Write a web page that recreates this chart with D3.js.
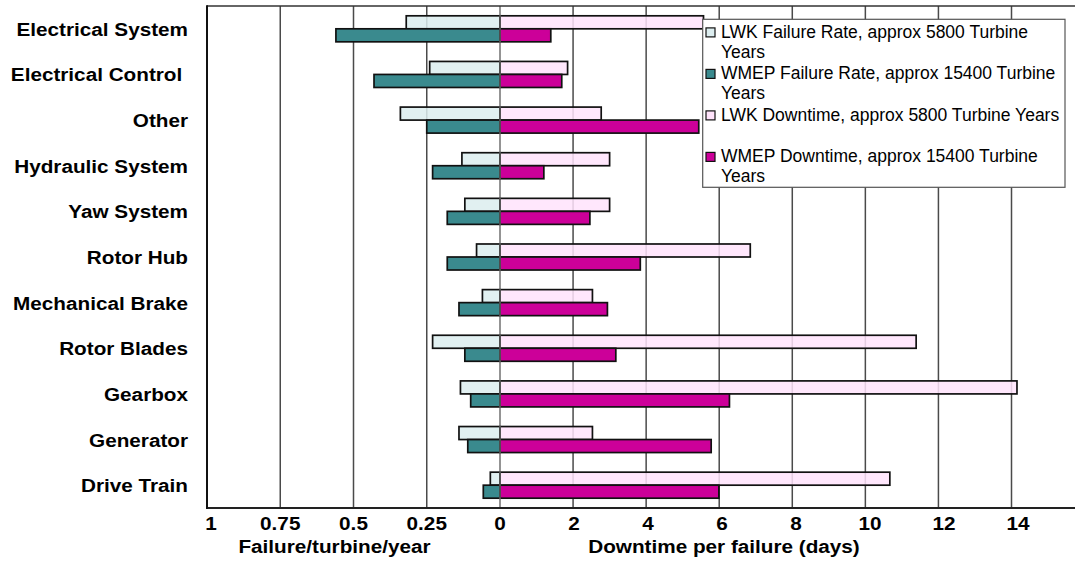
<!DOCTYPE html>
<html>
<head>
<meta charset="utf-8">
<script src="https://cdn.jsdelivr.net/npm/d3@7"></script>
<style>
  html, body { margin: 0; padding: 0; background: #fff; }
  svg { display: block; }
  text { font-family: "Liberation Sans", Arial, Helvetica, sans-serif; fill: #000; }
</style>
</head>
<body>
<svg id="chart" width="1075" height="562"></svg>
<script>
// Wind turbine subsystem reliability: failure rates (left) and downtime per failure (right)
const categories = [
  "Electrical System", "Electrical Control", "Other", "Hydraulic System", "Yaw System",
  "Rotor Hub", "Mechanical Brake", "Rotor Blades", "Gearbox", "Generator", "Drive Train"
];
const lwkFailureRate  = [0.32, 0.24, 0.34, 0.13, 0.12, 0.08, 0.06, 0.23, 0.135, 0.14, 0.033];
const wmepFailureRate = [0.56, 0.43, 0.25, 0.23, 0.18, 0.18, 0.14, 0.12, 0.10, 0.11, 0.057];
const lwkDowntime     = [5.57, 1.85, 2.77, 3.0, 3.0, 6.85, 2.53, 11.39, 14.15, 2.53, 10.67];
const wmepDowntime    = [1.39, 1.69, 5.44, 1.2, 2.46, 3.84, 2.94, 3.17, 6.28, 5.78, 5.99];

const failureTicks  = [1, 0.75, 0.5, 0.25, 0];
const downtimeTicks = [2, 4, 6, 8, 10, 12, 14];

const legendEntries = [
  { lines: ["LWK Failure Rate, approx 5800 Turbine", "Years"], key: "lwkF" },
  { lines: ["WMEP Failure Rate, approx 15400 Turbine", "Years"], key: "wmepF" },
  { lines: ["LWK Downtime, approx 5800 Turbine Years", ""], key: "lwkD" },
  { lines: ["WMEP Downtime, approx 15400 Turbine", "Years"], key: "wmepD" }
];

const colors = {
  lwkF: "#dcedef",
  wmepF: "#3a8a8e",
  lwkD: "#ffe3fb",
  wmepD: "#cc0099"
};

const svg = d3.select("#chart");
const W = 1075, H = 562;
const plotTop = 6, plotBottom = 508, plotLeft = 207, zeroX = 500;

const xFail = d3.scaleLinear().domain([1, 0]).range([plotLeft, zeroX]);
const xDown = d3.scaleLinear().domain([0, 14]).range([zeroX, 1011.5]);
const xDownLabel = d3.scaleLinear().domain([0, 14]).range([zeroX, 1018]);
const y = d3.scaleBand().domain(categories).range([plotTop, plotBottom])
  .paddingInner(0.43).paddingOuter(0.215);
const ySub = d3.scaleBand().domain(["LWK", "WMEP"]).range([0, y.bandwidth()]);

// grid lines
const grid = svg.append("g");
grid.selectAll("line.gf").data(failureTicks.filter(t => t !== 1 && t !== 0)).join("line")
  .attr("x1", d => xFail(d)).attr("x2", d => xFail(d))
  .attr("y1", plotTop).attr("y2", plotBottom)
  .attr("stroke", "#4a4a4a").attr("stroke-width", 1.5);
grid.selectAll("line.gd").data(downtimeTicks).join("line")
  .attr("x1", d => xDown(d)).attr("x2", d => xDown(d))
  .attr("y1", plotTop).attr("y2", plotBottom)
  .attr("stroke", "#4a4a4a").attr("stroke-width", 1.5);

// bars
const rows = categories.map((c, i) => ({
  cat: c,
  lwkF: lwkFailureRate[i], wmepF: wmepFailureRate[i],
  lwkD: lwkDowntime[i], wmepD: wmepDowntime[i]
}));

const bars = svg.append("g");
function failureBars(key, sub, opacity) {
  bars.selectAll(null).data(rows).join("rect")
    .attr("x", d => xFail(d[key]))
    .attr("width", d => zeroX - xFail(d[key]))
    .attr("y", d => y(d.cat) + ySub(sub))
    .attr("height", ySub.bandwidth())
    .attr("fill", colors[key]).attr("fill-opacity", opacity)
    .attr("stroke", "#111").attr("stroke-width", 1.7);
}
function downtimeBars(key, sub, opacity) {
  bars.selectAll(null).data(rows).join("rect")
    .attr("x", zeroX)
    .attr("width", d => xDown(d[key]) - zeroX)
    .attr("y", d => y(d.cat) + ySub(sub))
    .attr("height", ySub.bandwidth())
    .attr("fill", colors[key]).attr("fill-opacity", opacity)
    .attr("stroke", "#111").attr("stroke-width", 1.7);
}
failureBars("lwkF", "LWK", 0.85);
failureBars("wmepF", "WMEP", 1);
downtimeBars("lwkD", "LWK", 0.85);
downtimeBars("wmepD", "WMEP", 1);

// zero line
svg.append("line")
  .attr("x1", zeroX).attr("x2", zeroX).attr("y1", plotTop).attr("y2", plotBottom)
  .attr("stroke", "#666").attr("stroke-width", 1.4);

// frame
svg.append("line").attr("x1", plotLeft).attr("x2", W).attr("y1", plotTop).attr("y2", plotTop)
  .attr("stroke", "#333").attr("stroke-width", 1.6);
svg.append("line").attr("x1", plotLeft).attr("x2", W).attr("y1", plotBottom).attr("y2", plotBottom)
  .attr("stroke", "#222").attr("stroke-width", 2);
svg.append("line").attr("x1", plotLeft).attr("x2", plotLeft).attr("y1", plotTop - 0.8).attr("y2", plotBottom + 1)
  .attr("stroke", "#111").attr("stroke-width", 2);

// bold text helper with slightly wide glyphs
const SX = 1.12, BOLD = 18.5;
function boldText(x, yy, str, anchor) {
  const g = svg.append("g").attr("transform", `translate(${x},${yy}) scale(${SX},1)`);
  g.append("text").attr("text-anchor", anchor)
    .style("font-size", BOLD + "px").style("font-weight", "bold")
    .style("white-space", "pre").text(str);
}

// category labels
categories.forEach((c) => {
  const label = c === "Electrical Control" ? c + " " : c;
  boldText(188, y(c) + y.bandwidth() / 2 + 7, label, "end");
});

// tick labels
failureTicks.forEach(t => {
  boldText(t === 1 ? xFail(t) + 4 : xFail(t), 530, String(t), "middle");
});
downtimeTicks.forEach(t => {
  boldText(xDownLabel(t), 530, String(t), "middle");
});

// axis titles
boldText(334.5, 553, "Failure/turbine/year", "middle");
boldText(724, 553, "Downtime per failure (days)", "middle");

// legend
const lg = svg.append("g");
lg.append("rect").attr("x", 702.7).attr("y", 19.3).attr("width", 362.3).attr("height", 168)
  .attr("fill", "#fff").attr("stroke", "#555").attr("stroke-width", 1.2);
legendEntries.forEach((e, i) => {
  const base = 37.7 + i * 41.5;
  lg.append("rect").attr("x", 706).attr("y", base - 9.8).attr("width", 9).attr("height", 9)
    .attr("fill", colors[e.key]).attr("stroke", "#111").attr("stroke-width", 1.2);
  e.lines.forEach((ln, j) => {
    lg.append("text").attr("x", 721).attr("y", base + j * 20.2)
      .style("font-size", "17.5px").text(ln);
  });
});
</script>
</body>
</html>
